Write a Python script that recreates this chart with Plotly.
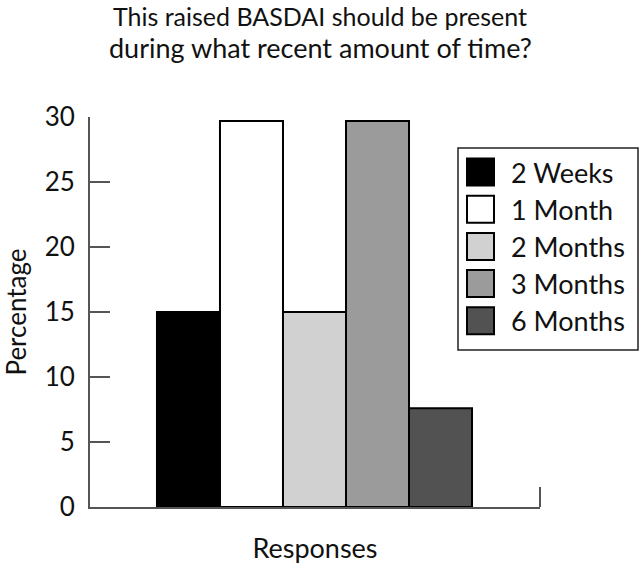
import plotly.graph_objects as go

categories = ["2 Weeks", "1 Month", "2 Months", "3 Months", "6 Months"]
values = [15, 29.7, 15, 29.7, 7.6]
colors = ["#000000", "#ffffff", "#d0d1d0", "#9a9b9a", "#525252"]
y_ticks = [0, 5, 10, 15, 20, 25, 30]
title_lines = ["This raised BASDAI should be present",
               "during what recent amount of time?"]

FONT = "Lato"
W, H = 640, 566
L, R, T, B = 90, 100, 117, 59
PW, PH = W - L - R, H - T - B


def px_x(px):
    return (px - L) / PW


def px_y(py):
    return (H - B - py) / PH


fig = go.Figure()
fig.add_trace(go.Bar(
    x=categories, y=values, width=1,
    marker=dict(color=colors, line=dict(color="#000000", width=2)),
    showlegend=False,
))

shapes = [
    dict(type="line", xref="paper", yref="paper", x0=1, x1=1, y0=0, y1=px_y(487),
         line=dict(color="#555555", width=2)),
    dict(type="rect", xref="paper", yref="paper",
         x0=px_x(458), x1=px_x(638), y0=px_y(148), y1=px_y(350),
         line=dict(color="#222222", width=1.5), fillcolor="rgba(0,0,0,0)"),
]
annotations = [
    dict(xref="paper", yref="paper", x=px_x(320), y=px_y(48),
         xanchor="center", yanchor="middle", showarrow=False,
         text=title_lines[1], font=dict(family=FONT, size=27, color="#111111")),
]
row0, step, sw = 172, 37.2, 27
for i, (cat, col) in enumerate(zip(categories, colors)):
    cy = row0 + i * step
    shapes.append(dict(type="rect", xref="paper", yref="paper",
                       x0=px_x(467), x1=px_x(467 + sw),
                       y0=px_y(cy - sw / 2), y1=px_y(cy + sw / 2),
                       fillcolor=col, line=dict(color="#000000", width=2)))
    annotations.append(dict(xref="paper", yref="paper", x=px_x(509), y=px_y(cy),
                            xanchor="left", yanchor="middle", showarrow=False,
                            text=cat, font=dict(family=FONT, size=27, color="#111111")))

fig.update_layout(
    width=W, height=H, autosize=False,
    margin=dict(l=L, r=R, t=T, b=B, pad=0),
    paper_bgcolor="white", plot_bgcolor="white",
    font=dict(family=FONT, color="#111111"),
    title=dict(text=title_lines[0],
               x=320 / W, xref="container", xanchor="center",
               y=1 - 17 / H, yref="container", yanchor="middle",
               font=dict(family=FONT, size=25, color="#111111")),
    barmode="overlay",
    shapes=shapes,
    annotations=annotations,
    xaxis=dict(type="category", categoryorder="array", categoryarray=categories,
               range=[-1.563, 5.579], showticklabels=False, ticks="",
               showgrid=False, zeroline=False, showline=True, automargin=False,
               linecolor="#555555", linewidth=2,
               title=dict(text="Responses", standoff=31,
                          font=dict(family=FONT, size=27, color="#111111"))),
    yaxis=dict(range=[0, 30], tickvals=y_ticks, ticks="inside", ticklen=20,
               tickwidth=2, tickcolor="#555555", showgrid=False, zeroline=False,
               showline=True, linecolor="#555555", linewidth=2, automargin=False,
               ticklabelstandoff=8,
               tickfont=dict(family=FONT, size=26, color="#111111"),
               title=dict(text="Percentage", standoff=30,
                          font=dict(family=FONT, size=26, color="#111111"))),
)

fig.write_html("out.html", config={"displayModeBar": False},
               post_script="document.body.style.margin='0px';"
                           "document.body.style.padding='0px';")
